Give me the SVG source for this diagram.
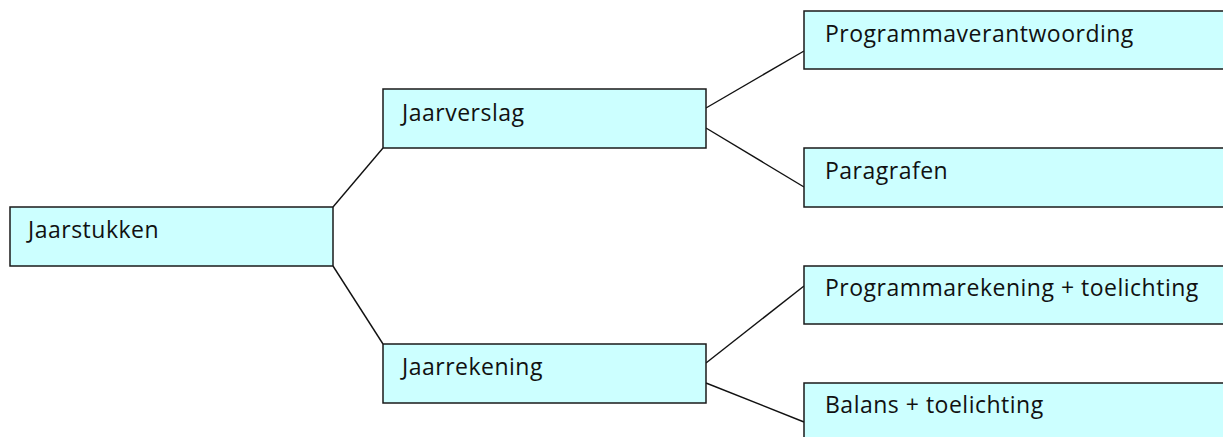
<svg xmlns="http://www.w3.org/2000/svg" width="1223" height="437" viewBox="0 0 1223 437">
<style>
.box{fill:#CCFFFF;stroke:#1a1a1a;stroke-width:1.5}
.lbl{font-family:"Open Sans","Noto Sans",sans-serif;font-size:23px;letter-spacing:0.5px;fill:#111}
.con{stroke:#111;stroke-width:1.4;fill:none}
</style>
<rect width="1223" height="437" fill="#fff"/>
<g id="connectors">
<line class="con" x1="333" y1="207" x2="383" y2="148"/>
<line class="con" x1="333" y1="266" x2="383" y2="344"/>
<line class="con" x1="706" y1="108" x2="804" y2="51"/>
<line class="con" x1="706" y1="128" x2="804" y2="187"/>
<line class="con" x1="706" y1="363" x2="804" y2="286"/>
<line class="con" x1="706" y1="383" x2="804" y2="422"/>
</g>
<g id="jaarstukken"><rect class="box" x="10" y="207" width="323" height="59"/><text class="lbl" x="28" y="238">Jaarstukken</text></g>
<g id="jaarverslag"><rect class="box" x="383" y="89" width="323" height="59"/><text class="lbl" x="402" y="121">Jaarverslag</text></g>
<g id="jaarrekening"><rect class="box" x="383" y="344" width="323" height="59"/><text class="lbl" x="402" y="375">Jaarrekening</text></g>
<g id="programmaverantwoording"><rect class="box" x="804" y="11" width="440" height="58"/><text class="lbl" x="825" y="42">Programmaverantwoording</text></g>
<g id="paragrafen"><rect class="box" x="804" y="148" width="440" height="59"/><text class="lbl" x="825" y="179">Paragrafen</text></g>
<g id="programmarekening"><rect class="box" x="804" y="266" width="440" height="58"/><text class="lbl" x="825" y="296">Programmarekening + toelichting</text></g>
<g id="balans"><rect class="box" x="804" y="383" width="440" height="70"/><text class="lbl" x="825" y="413">Balans + toelichting</text></g>
</svg>
